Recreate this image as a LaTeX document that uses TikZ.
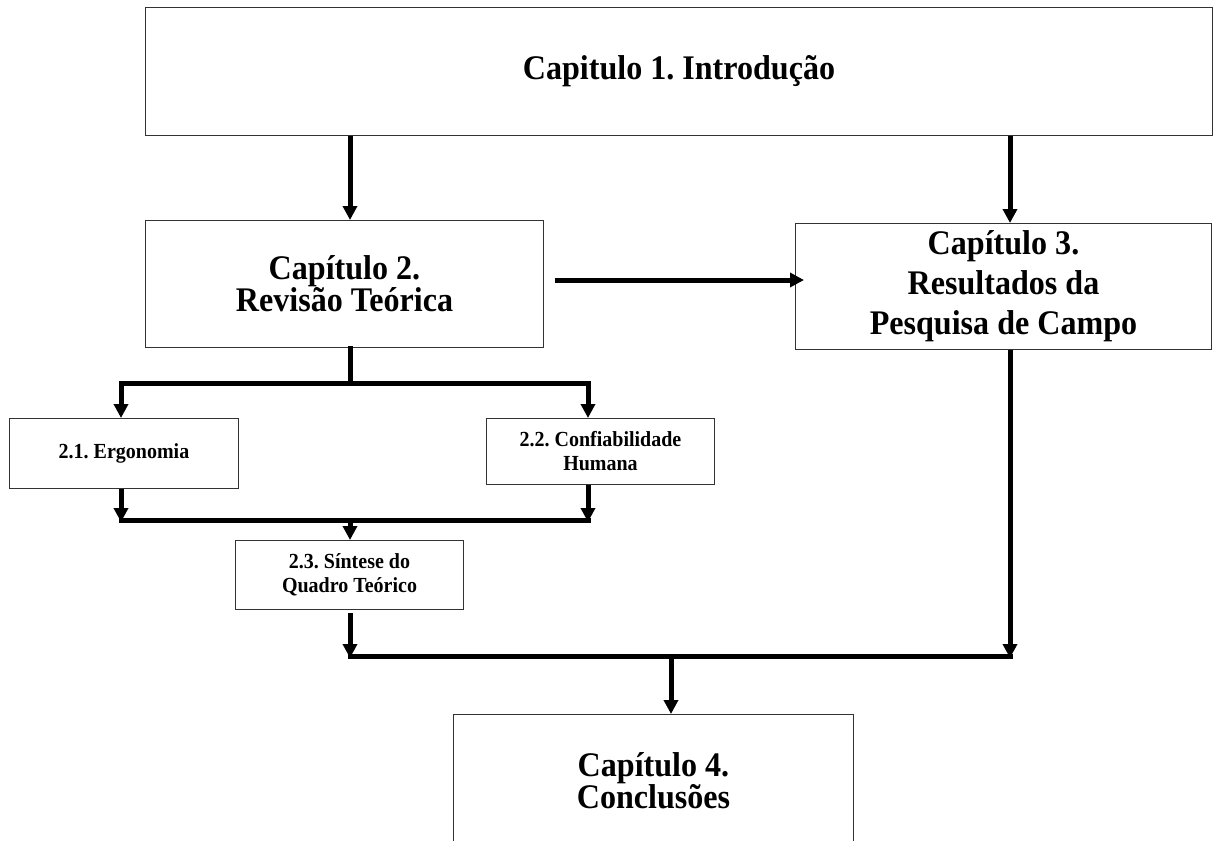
\documentclass[tikz,border=0pt]{standalone}
\usepackage{fontspec}
\setmainfont{Liberation Serif}
\newfontfamily\headfont{Liberation Serif}[FakeStretch=0.93]
\usetikzlibrary{arrows.meta}
\frenchspacing
\begin{document}
\begin{tikzpicture}[x=1pt,y=-1pt,
  box/.style={draw=black!80, line width=1pt, rectangle, inner sep=0pt,
    align=center, anchor=north west,
    font=\headfont\bfseries\fontsize{34.5}{32}\selectfont},
  tallbox/.style={box, font=\headfont\bfseries\fontsize{34.5}{40}\selectfont},
  smallbox/.style={box, font=\headfont\bfseries\fontsize{21.5}{24}\selectfont},
  wire/.style={line width=5pt, line cap=rect},
  link/.style={line width=5pt, -{Triangle[length=14pt,width=14pt]}},
]
\useasboundingbox (0,0) rectangle (1216,841);
\clip (0,0) rectangle (1216,841);

% chapter boxes
\node[box, minimum width=1067pt, minimum height=128pt] (intro) at (145,7)
  {Capitulo 1. Introdução};
\node[box, minimum width=398pt, minimum height=127pt] (c2) at (145,220)
  {Capítulo 2.\\Revisão Teórica};
\node[tallbox, minimum width=416pt, minimum height=126pt] (c3) at (795,223)
  {Capítulo 3.\\Resultados da\\Pesquisa de Campo};
\node[box, minimum width=400pt, minimum height=132pt] (c4) at (453,714)
  {Capítulo 4.\\Conclusões};

% sections of chapter 2
\node[smallbox, minimum width=229pt, minimum height=70pt] (s21) at (9,418)
  {2.1. Ergonomia};
\node[smallbox, minimum width=228pt, minimum height=66pt] (s22) at (486,418)
  {2.2. Confiabilidade\\Humana};
\node[smallbox, minimum width=228pt, minimum height=69pt] (s23) at (235,540)
  {2.3. Síntese do\\Quadro Teórico};

% junction points
\coordinate (ca) at (350,383);
\coordinate (cl) at (121,383);
\coordinate (cr) at (588,383);
\coordinate (ma) at (350,520);
\coordinate (mb) at (350,656);
\coordinate (mc) at (1010,656);
\coordinate (md) at (671,656);
\coordinate (ha) at (555,280);
\coordinate (hb) at (804,280);

% introduction to chapters 2 and 3
\draw[link] (intro.south -| ca) -- (c2.north -| ca);
\draw[link] (intro.south -| mc) -- (c3.north -| mc);
\draw[link] (ha) -- (hb);

% chapter 2 splits into its sections
\draw[wire] (c2.south -| ca) -- (ca);
\draw[link] (ca) -| (s21.north -| cl);
\draw[link] (ca) -| (s22.north -| cr);

% sections 2.1 and 2.2 merge into 2.3
\draw[link] (s21.south -| cl) -- ([yshift=-2pt]cl |- ma);
\draw[link] (s22.south -| cr) -- ([yshift=-2pt]cr |- ma);
\draw[wire] (cl |- ma) -- (cr |- ma);
\draw[link] (ma) -- (s23.north -| ma);

% chapters 2.3 and 3 lead to the conclusions
\draw[link] ([yshift=-3pt]s23.south -| mb) -- ([yshift=-2pt]mb);
\draw[link] (c3.south -| mc) -- ([yshift=-2pt]mc);
\draw[wire] (mb) -- (mc);
\draw[link] (md) -- (c4.north -| md);
\end{tikzpicture}
\end{document}
